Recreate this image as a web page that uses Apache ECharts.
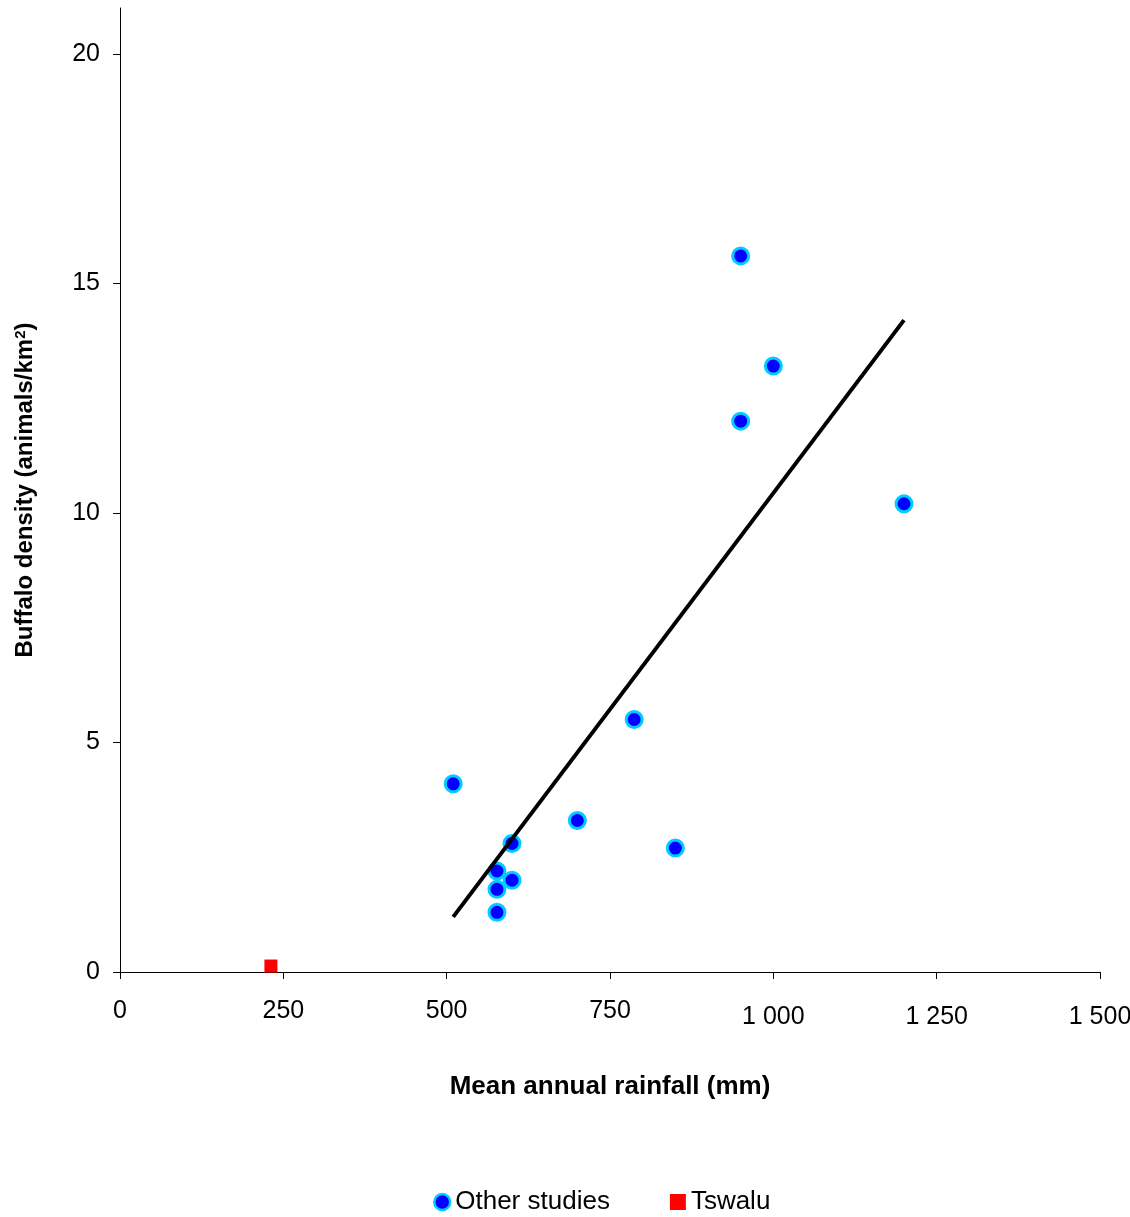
<!DOCTYPE html>
<html>
<head>
<meta charset="utf-8">
<script src="https://cdn.jsdelivr.net/npm/echarts@6/dist/echarts.min.js"></script>
<style>
  html, body { margin: 0; padding: 0; background: #fff; }
  #chart { width: 1130px; height: 1217px; }
</style>
</head>
<body>
<div id="chart"></div>
<script>
// rainfall (mm) vs buffalo density (animals/km2)
const otherStudies = [
  [950, 15.6], [1000, 13.2], [950, 12.0], [1200, 10.2], [787, 5.5],
  [510, 4.1], [700, 3.3], [850, 2.7], [600, 2.8], [577, 2.2],
  [600, 2.0], [577, 1.8], [577, 1.3]
];
const tswalu = [[231, 0.13]];
const trendLine = [[510, 1.2], [1200, 14.2]];
const xTicks = [0, 250, 500, 750, 1000, 1250, 1500];
const yTicks = [0, 5, 10, 15, 20];

const font = 'Liberation Sans, Arial, sans-serif';
const chart = echarts.init(document.getElementById('chart'));

function fmtThousands(v) {
  return String(v).replace(/\B(?=(\d{3})+(?!\d))/g, ' ');
}

chart.setOption({
  animation: false,
  grid: { left: 120, right: 30, top: 8, bottom: 245, outerBoundsMode: 'none', containLabel: false },
  xAxis: {
    type: 'value',
    min: 0, max: 1500, interval: 250,
    name: 'Mean annual rainfall (mm)',
    nameLocation: 'middle',
    nameGap: 102,
    nameTextStyle: { fontFamily: font, fontSize: 26, fontWeight: 'bold', color: '#000' },
    splitLine: { show: false },
    axisLine: { lineStyle: { color: '#000', width: 1 } },
    axisTick: { show: true, inside: false, length: 7, lineStyle: { color: '#000' }, customValues: xTicks },
    axisLabel: {
      fontFamily: font, fontSize: 25, color: '#000', margin: 27,
      customValues: xTicks,
      formatter: function (v) {
        return v >= 1000 ? '{b|' + fmtThousands(v) + '}' : fmtThousands(v);
      },
      rich: { b: { fontFamily: font, fontSize: 25, color: '#000', padding: [6, 0, 0, 0] } }
    }
  },
  yAxis: {
    type: 'value',
    min: 0, max: 21,
    name: 'Buffalo density (animals/km{sup|2})',
    nameLocation: 'middle',
    nameGap: 82,
    nameRotate: 90,
    nameTextStyle: {
      fontFamily: font, fontSize: 24, fontWeight: 'bold', color: '#000',
      rich: { sup: { fontFamily: font, fontSize: 15, fontWeight: 'bold', color: '#000', verticalAlign: 'top', padding: [0, 0, 10, 0] } }
    },
    splitLine: { show: false },
    axisLine: { show: true, lineStyle: { color: '#000', width: 1 } },
    axisTick: { show: true, inside: false, length: 7, lineStyle: { color: '#000' }, customValues: yTicks },
    axisLabel: { fontFamily: font, fontSize: 25, color: '#000', margin: 20, customValues: yTicks }
  },
  legend: {
    bottom: -3,
    left: 428,
    itemGap: 60,
    itemWidth: 16,
    itemHeight: 16,
    textStyle: { fontFamily: font, fontSize: 26, color: '#000' },
    data: [
      { name: 'Other studies', icon: 'circle', itemStyle: { color: '#0000ff', borderColor: '#00ccff', borderWidth: 2.5 } },
      { name: 'Tswalu', icon: 'rect', itemStyle: { color: '#ff0000', borderWidth: 0 } }
    ]
  },
  series: [
    {
      name: 'trend',
      type: 'line',
      data: trendLine,
      symbol: 'none',
      lineStyle: { color: '#000', width: 4 },
      z: 3
    },
    {
      name: 'Other studies',
      type: 'scatter',
      data: otherStudies,
      symbol: 'circle',
      symbolSize: 16,
      itemStyle: { color: '#0000ff', borderColor: '#00ccff', borderWidth: 3, opacity: 1 },
      z: 2
    },
    {
      name: 'Tswalu',
      type: 'scatter',
      data: tswalu,
      symbol: 'rect',
      symbolSize: 13,
      itemStyle: { color: '#ff0000', opacity: 1 },
      z: 2
    }
  ]
});
</script>
</body>
</html>
